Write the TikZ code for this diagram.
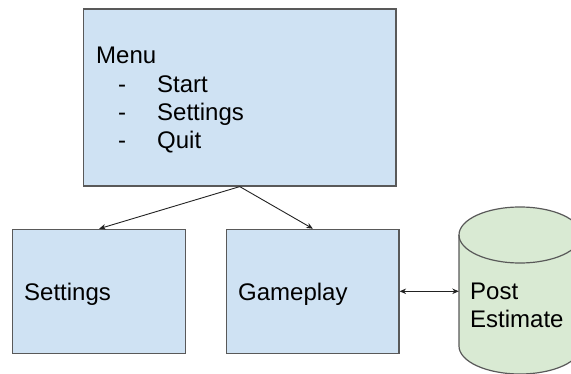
\documentclass[tikz,border=0pt]{standalone}
\usepackage{fontspec}
\setmainfont{Liberation Sans}
\usetikzlibrary{arrows.meta}
\definecolor{boxblue}{HTML}{CFE2F3}
\definecolor{dbgreen}{HTML}{D9EAD3}
\definecolor{edgegray}{HTML}{595959}
\definecolor{linkcol}{HTML}{222222}
\tikzset{
  box/.style={draw=edgegray, fill=boxblue, line width=1.2pt, inner sep=0pt},
  txt/.style={inner sep=0pt, anchor=base west, font=\fontsize{24}{28}\selectfont},
  link/.style={draw=linkcol, line width=0.9pt, -{Stealth[length=6.5pt,width=5.5pt]}},
  dblink/.style={draw=linkcol, line width=0.9pt, {Stealth[length=6.5pt,width=5.5pt]}-{Stealth[length=6.5pt,width=5.5pt]}},
  dbshape/.style={draw=edgegray, fill=dbgreen, line width=1.2pt}
}
\begin{document}
\begin{tikzpicture}[x=1pt,y=1pt]
\useasboundingbox (0,0) rectangle (571,373);
\clip (0,0) rectangle (571,373);
% boxes
\node[box, minimum width=312.5pt, minimum height=177pt] (menu) at (239.75,275.5) {};
\node[box, minimum width=173pt, minimum height=124pt] (settings) at (99.2,81.7) {};
\node[box, minimum width=172.3pt, minimum height=124pt] (gameplay) at (312.85,81.7) {};
% cylinder
\path[dbshape] (459,138) -- (459,27) arc[start angle=180, end angle=360, x radius=61, y radius=28]
  -- (581,138) arc[start angle=0, end angle=180, x radius=61, y radius=28] -- cycle;
\draw[dbshape, fill=none] (459,138) arc[start angle=180, end angle=360, x radius=61, y radius=28];
\node[inner sep=0pt, minimum width=122pt, minimum height=167pt] (db) at (520,82.5) {};
% texts
\node[txt] (menutitle) at (96,309.7) {Menu};
\node[txt] (dash1) at (118,280.7) {-};
\node[txt] (item1) at (157,280.7) {Start};
\node[txt] (dash2) at (118,252.3) {-};
\node[txt] (item2) at (157,252.3) {Settings};
\node[txt] (dash3) at (118,224) {-};
\node[txt] (item3) at (157,224) {Quit};
\node[txt] (settingstxt) at (24,73) {Settings};
\node[txt] (gameplaytxt) at (238,73) {Gameplay};
\node[txt] (post) at (470,73.7) {Post};
\node[txt] (estimate) at (470,45.7) {Estimate};
% connectors
\draw[link] (menu.south) -- (settings.north);
\draw[link] (menu.south) -- (gameplay.north);
\draw[dblink] (gameplay.east) -- (gameplay.east -| db.west);
\end{tikzpicture}
\end{document}
